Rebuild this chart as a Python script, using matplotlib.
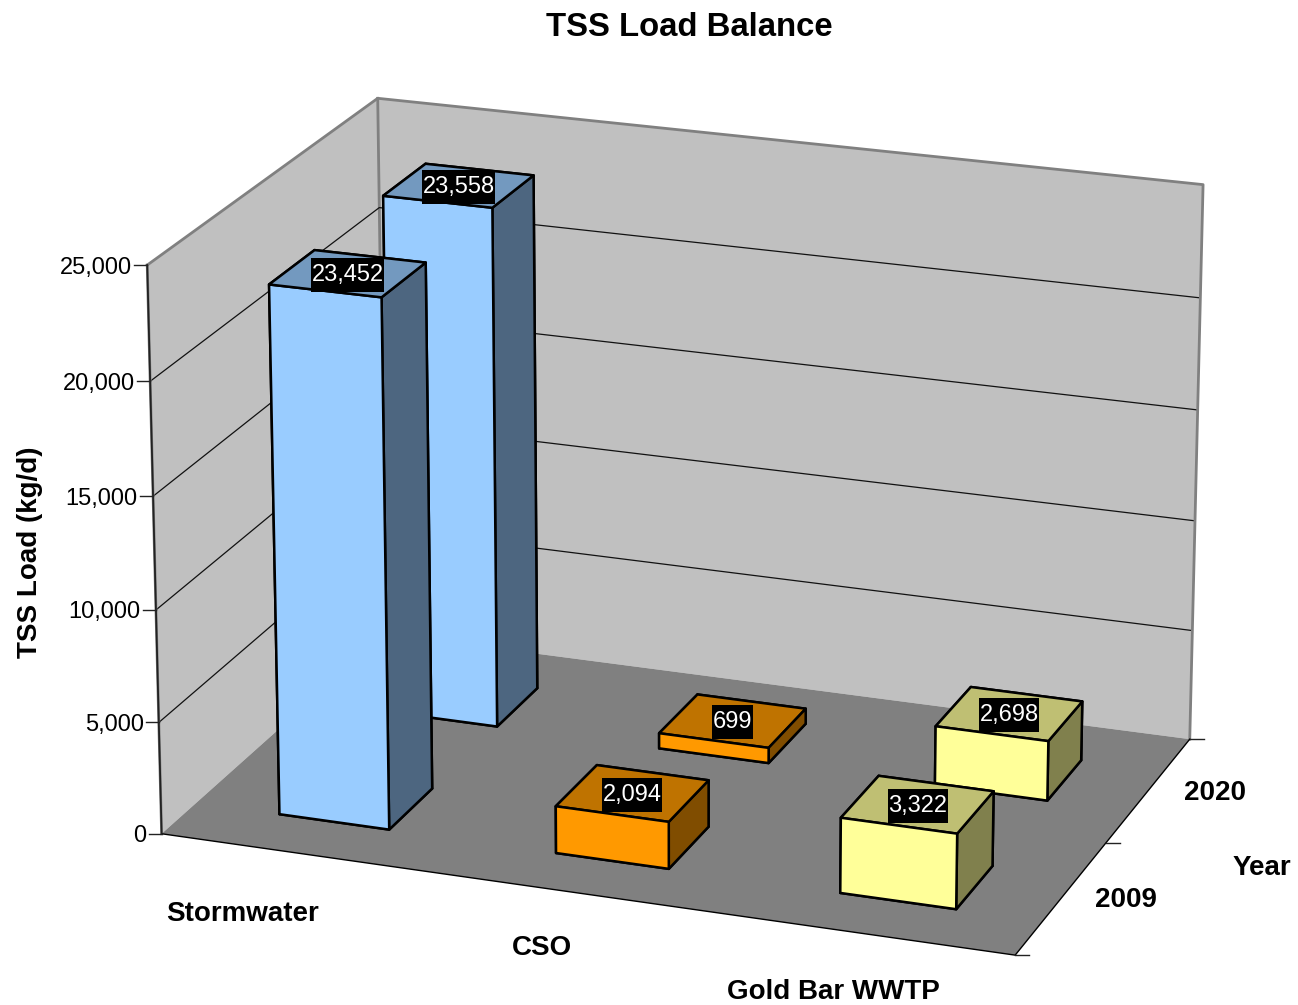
import numpy as np
import matplotlib
matplotlib.use('Agg')
from matplotlib import pyplot as plt
from matplotlib.lines import Line2D
from matplotlib.path import Path
from mpl_toolkits.mplot3d import proj3d
from mpl_toolkits.mplot3d.art3d import Poly3DCollection

W, H = 1298, 1005

categories = ['Stormwater', 'CSO', 'Gold Bar WWTP']
years = ['2009', '2020']
load_2009 = [23452, 2094, 3322]
load_2020 = [23558, 699, 2698]
value_ticks = [0, 5000, 10000, 15000, 20000, 25000]

# front, top, side colours per category
front_cols = ['#99CCFF', '#FF9900', '#FFFF99']
top_cols = ['#7399BF', '#BF7300', '#BFBF73']
side_cols = ['#4D6680', '#804D00', '#80804D']

# where the category and year names sit on the floor plane
cat_label_x = [0.52, 1.54, 2.54]
cat_label_y = [-0.527, -0.455, -0.465]
year_label_x = [3.205, 3.22]

zmax = value_ticks[-1]

# camera: fit a projection from the frame corners seen in the picture
world = [(0, 0, 0), (0, 0, 1), (0, 2, 1), (3, 2, 1), (3, 2, 0), (3, 0, 0), (0, 2, 0)]
screen = [(162, 833), (147, 265), (378, 98), (1203, 185), (1190, 738), (1015, 956), (385, 635)]
A = []
b = []
for (x, y, z), (u, v) in zip(world, screen):
    v = H - v
    A.append([x, y, z, 1, 0, 0, 0, 0, -u * x, -u * y, -u * z])
    A.append([0, 0, 0, 0, x, y, z, 1, -v * x, -v * y, -v * z])
    b += [u, v]
p = np.linalg.lstsq(np.array(A, float), np.array(b, float), rcond=None)[0]
M = np.array([[p[0], p[1], p[2] / zmax, p[3]],
              [p[4], p[5], p[6] / zmax, p[7]],
              [-0.1, 0.3, -0.5 / zmax, 5.0],
              [p[8], p[9], p[10] / zmax, 1.0]])

plt.rcParams['font.family'] = ['Liberation Sans', 'DejaVu Sans']

fig = plt.figure(figsize=(W / 100, H / 100), dpi=100)
ax = fig.add_axes([0, 0, 1, 1], projection='3d', computed_zorder=False)
ax.set_axis_off()
ax.set_xticks([])
ax.set_yticks([])
ax.set_zticks([])
ax.get_proj = lambda: M
ax.apply_aspect = lambda position=None: None
ax.viewLim.intervalx = (0, W)
ax.viewLim.intervaly = (0, H)


def pane(corners, col, zo):
    ax.add_collection3d(Poly3DCollection([corners], facecolor=col, edgecolor='none', zorder=zo))


def line3d(xs, ys, zs, dx=0, **kw):
    us, vs, _ = proj3d.proj_transform(np.array(xs, float), np.array(ys, float), np.array(zs, float), M)
    ax.add_line(Line2D(us + np.array([0, dx] if dx else 0), vs, clip_on=False, **kw))


def label3d(x, y, z, s, dy=0, **kw):
    u, v, _ = proj3d.proj_transform(float(x), float(y), float(z), M)
    ax.annotate(s, (u, v + dy), xycoords='data', annotation_clip=False, **kw)


def label_box(x0, y0, width, height, mutation_size):
    # tight at the sides, taller than the digits
    return Path([(x0 - 0.5, y0 - 6), (x0 + width + 0.5, y0 - 6), (x0 + width + 0.5, y0 + height + 6),
                 (x0 - 0.5, y0 + height + 6), (x0 - 0.5, y0 - 6)], closed=True)


# walls and floor
pane([(0, 2, 0), (3, 2, 0), (3, 2, zmax), (0, 2, zmax)], '#C0C0C0', 0)
pane([(0, 0, 0), (0, 2, 0), (0, 2, zmax), (0, 0, zmax)], '#C0C0C0', 0)
pane([(0, 0, 0), (3, 0, 0), (3, 2, 0), (0, 2, 0)], '#808080', 0.5)

# gridlines
for t in value_ticks[1:-1]:
    line3d([0, 0, 3], [0, 2, 2], [t, t, t], color='#111111', lw=0.9, zorder=0.6)

# frame
line3d([0, 0, 3, 3], [0, 2, 2, 2], [zmax, zmax, zmax, 0], color='#808080', lw=2, zorder=0.7)
line3d([0, 0], [2, 2], [0, zmax], color='#808080', lw=2, zorder=0.55)
line3d([0, 0], [0, 0], [0, zmax], color='#808080', lw=2, zorder=0.7)
line3d([0, 0], [0, 0], [0, zmax], color='#222222', lw=1.3, zorder=0.75)
line3d([0, 3, 3], [0, 0, 2], [0, 0, 0], color='black', lw=1, zorder=0.7)

for t in value_ticks:
    line3d([0, 0], [0, 0], [t, t], dx=-13, color='#222222', lw=1, zorder=0.8)
    label3d(-0.055, 0, t, f'{t:,}', dy=-2, ha='right', va='center_baseline', fontsize=17, zorder=1)
for y in [0, 1, 2]:
    line3d([3, 3], [y, y], [0, 0], dx=14, color='#222222', lw=1, zorder=0.8)

# bars, back row first
half_x = 0.2
half_y = 0.195
for row, vals in [(1, load_2020), (0, load_2009)]:
    for i, val in enumerate(vals):
        cols = [top_cols[i], top_cols[i], front_cols[i], front_cols[i], side_cols[i], side_cols[i]]
        ax.bar3d(i + 0.505 - half_x, row + 0.49 - half_y, 0, 2 * half_x, 2 * half_y, val,
                 color=cols, shade=False, edgecolor='black', linewidth=1.8, zorder=2 + (1 - row) + i * 0.1)
        label3d(i + 0.505, row + 0.49, val, f'{val:,}', dy=1, ha='center', va='center_baseline', color='white',
                fontsize=17, zorder=10, bbox=dict(boxstyle=label_box, fc='black', ec='none'))

# axis labels
for i, c in enumerate(categories):
    label3d(cat_label_x[i], cat_label_y[i], 0, c, dy=-2, ha='center', va='center', fontsize=20, fontweight='bold')
for i, yr in enumerate(years):
    label3d(year_label_x[i], i + 0.555, 0, yr, ha='center', va='center', fontsize=20, fontweight='bold')

fig.text(689 / W, 1 - 28 / H, 'TSS Load Balance', ha='center', va='center', fontsize=23.7, fontweight='bold')
fig.text(30 / W, 1 - 552 / H, 'TSS Load (kg/d)', rotation=90, ha='center', va='center', fontsize=20, fontweight='bold')
fig.text(1262 / W, 1 - 868 / H, 'Year', ha='center', va='center', fontsize=20, fontweight='bold')

fig.savefig('out.png', dpi=100)
